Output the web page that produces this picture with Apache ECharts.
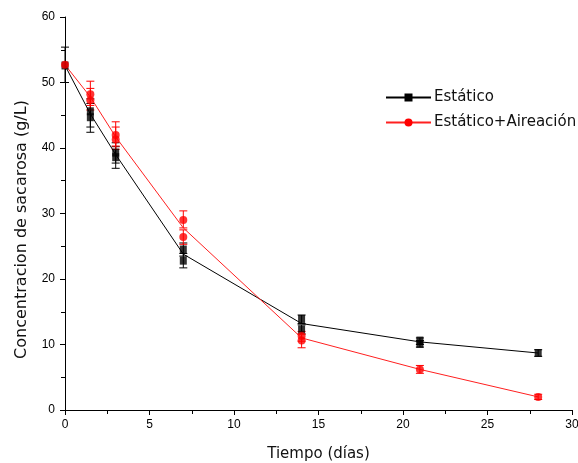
<!DOCTYPE html>
<html>
<head>
<meta charset="utf-8">
<script src="https://cdn.jsdelivr.net/npm/echarts@6/dist/echarts.min.js"></script>
<style>html,body{margin:0;padding:0;background:#fff}#c{width:578px;height:463px}</style>
</head>
<body>
<div id="c"></div>
<script>
// Mean curves (line)
const estaticoMeanX = [0, 1.5, 3, 7, 14, 21, 28];
const estaticoMeanY = [52.6, 45.2, 39.0, 23.8, 13.2, 10.4, 8.7];
const aireacionMeanX = [0, 1.5, 3, 7, 14, 21, 28];
const aireacionMeanY = [52.7, 47.8, 41.7, 27.8, 11.0, 6.2, 2.0];

// Replicate points (markers)
const estaticoRepX = [0, 1.5, 1.5, 3, 3, 7, 7, 14, 14, 21, 21, 28];
const estaticoRepY = [52.6, 45.6, 44.7, 39.3, 38.6, 24.5, 22.8, 13.9, 12.3, 10.6, 10.1, 8.7];
const aireacionRepX = [0, 1.5, 1.5, 3, 3, 7, 7, 14, 14, 21, 28];
const aireacionRepY = [52.7, 48.2, 47.3, 42.0, 41.3, 29.0, 26.4, 11.3, 10.6, 6.2, 2.0];

// Error bars: low / high for each replicate
const estaticoErrX = [0, 1.5, 1.5, 3, 3, 7, 7, 14, 14, 21, 21, 28];
const estaticoErrLo = [50.0, 43.2, 42.4, 37.7, 36.9, 23.5, 21.7, 13.2, 11.6, 10.0, 9.6, 8.2];
const estaticoErrHi = [55.4, 47.5, 46.8, 40.8, 40.2, 25.5, 23.9, 14.5, 13.0, 11.0, 10.6, 9.2];
const aireacionErrX = [1.5, 1.5, 3, 3, 7, 7, 14, 14, 21, 28];
const aireacionErrLo = [46.5, 45.8, 40.3, 39.8, 27.8, 25.3, 10.5, 9.5, 5.6, 1.6];
const aireacionErrHi = [50.2, 49.1, 44.0, 43.2, 30.4, 27.5, 12.0, 11.6, 6.8, 2.4];

const xTicks = [0, 5, 10, 15, 20, 25, 30];
const yTicks = [0, 10, 20, 30, 40, 50, 60];

const zip2 = (a, b) => a.map((v, i) => [v, b[i]]);
const zip3 = (a, b, c) => a.map((v, i) => [v, b[i], c[i]]);

function errRender(color) {
  return function (params, api) {
    const x = api.value(0), lo = api.value(1), hi = api.value(2);
    const p1 = api.coord([x, lo]), p2 = api.coord([x, hi]);
    const w = 4;
    const st = { stroke: color, lineWidth: 1 };
    return {
      type: 'group',
      children: [
        { type: 'line', shape: { x1: p1[0], y1: p1[1], x2: p2[0], y2: p2[1] }, style: st },
        { type: 'line', shape: { x1: p1[0] - w, y1: p1[1], x2: p1[0] + w, y2: p1[1] }, style: st },
        { type: 'line', shape: { x1: p2[0] - w, y1: p2[1], x2: p2[0] + w, y2: p2[1] }, style: st }
      ]
    };
  };
}

const FONT = 'DejaVu Sans';
const chart = echarts.init(document.getElementById('c'));
chart.setOption({
  animation: false,
  backgroundColor: '#fff',
  grid: { left: 65, right: 6, top: 17, bottom: 53, outerBoundsMode: 'none', containLabel: false },
  legend: {
    data: ['Estático', 'Estático+Aireación'],
    orient: 'vertical',
    left: 380, top: 85,
    itemWidth: 45, itemHeight: 10, itemGap: 10,
    textStyle: { fontFamily: FONT, fontSize: 15, color: '#111', padding: [0, 0, 0, -2] }
  },
  xAxis: {
    type: 'value', min: 0, max: 30, interval: 5,
    name: 'Tiempo (días)', nameLocation: 'middle', nameGap: 37,
    nameTextStyle: { fontFamily: FONT, fontSize: 15, color: '#111' },
    axisLine: { onZero: false, lineStyle: { color: '#000', width: 1 } },
    axisTick: { show: true, length: 5, lineStyle: { color: '#000' } },
    minorTick: { show: true, splitNumber: 2, length: 4, lineStyle: { color: '#000' } },
    splitLine: { show: false },
    axisLabel: { fontFamily: 'Liberation Sans', fontSize: 12, color: '#000', margin: 9,
      formatter: v => xTicks.includes(v) ? String(v) : '' }
  },
  yAxis: {
    type: 'value', min: 0, max: 60, interval: 10,
    name: 'Concentracion de sacarosa (g/L)', nameLocation: 'middle', nameGap: 35,
    nameTextStyle: { fontFamily: FONT, fontSize: 16, color: '#111', padding: [0, 32, 0, 0] },
    axisLine: { show: true, onZero: false, lineStyle: { color: '#000', width: 1 } },
    axisTick: { show: true, length: 5, lineStyle: { color: '#000' } },
    minorTick: { show: true, splitNumber: 2, length: 4, lineStyle: { color: '#000' } },
    splitLine: { show: false },
    axisLabel: { fontFamily: 'Liberation Sans', fontSize: 12, color: '#000', margin: 10,
      formatter: v => yTicks.includes(v) ? String(v) : '' }
  },
  series: [
    { type: 'custom', name: 'errE', renderItem: errRender('#000'), data: zip3(estaticoErrX, estaticoErrLo, estaticoErrHi), z: 1, silent: true },
    { type: 'custom', name: 'errA', renderItem: errRender('#ff0000'), data: zip3(aireacionErrX, aireacionErrLo, aireacionErrHi), z: 1, silent: true },
    { type: 'line', name: 'Estático', data: zip2(estaticoMeanX, estaticoMeanY), showSymbol: false,
      symbol: 'rect', symbolSize: 8, color: '#000', lineStyle: { color: '#000', width: 1 }, z: 2 },
    { type: 'line', name: 'Estático+Aireación', data: zip2(aireacionMeanX, aireacionMeanY), showSymbol: false,
      symbol: 'circle', symbolSize: 8, color: '#ff0000', lineStyle: { color: '#ff2020', width: 1 }, z: 2 },
    { type: 'scatter', name: 'repE', data: zip2(estaticoRepX, estaticoRepY), symbol: 'rect', symbolSize: [7, 8],
      itemStyle: { color: '#000' }, z: 3 },
    { type: 'scatter', name: 'repA', data: zip2(aireacionRepX, aireacionRepY), symbol: 'circle', symbolSize: 8,
      itemStyle: { color: '#ff0000' }, z: 3 }
  ]
});
</script>
</body>
</html>
